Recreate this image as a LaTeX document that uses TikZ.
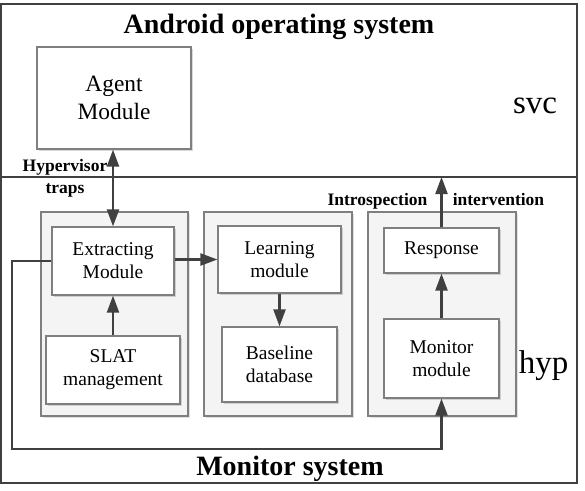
\documentclass[tikz,border=0pt]{standalone}
\usepackage{fontspec}
\setmainfont{Liberation Serif}
\usepackage{xcolor}
\usetikzlibrary{arrows.meta,shadows}
\definecolor{framegray}{HTML}{404040}
\definecolor{boxgray}{HTML}{7F7F7F}
\definecolor{groupfill}{HTML}{F4F4F4}

\begin{document}
\begin{tikzpicture}[x=1pt, y=-1pt,
  >={Triangle[length=17pt,width=12pt]},
  frame/.style={draw=framegray, line width=1.3pt},
  group/.style={draw=boxgray, line width=1.2pt, fill=groupfill, inner sep=0pt,
    drop shadow={shadow xshift=1.5pt, shadow yshift=-1.5pt, fill=black, opacity=0.12}},
  module/.style={draw=boxgray, line width=1.2pt, fill=white, align=center, inner sep=0pt,
    font=\fontsize{19.5}{23}\selectfont,
    drop shadow={shadow xshift=1.5pt, shadow yshift=-1.5pt, fill=black, opacity=0.15}},
  flow/.style={draw=framegray, line width=2.2pt},
  title/.style={font=\fontsize{28}{34}\selectfont\bfseries, inner sep=0pt, anchor=base},
  layer/.style={font=\fontsize{33}{40}\selectfont, inner sep=0pt, anchor=base},
  note/.style={font=\fontsize{17.5}{22}\selectfont\bfseries, inner sep=0pt, align=center}]
  \useasboundingbox (0,0) rectangle (585,490);

  % Frame
  \draw[frame] (1,4) rectangle (577,483);
  \draw[frame] (1,177) -- (577,177);
  \coordinate (divR) at (441.5,177);
  \coordinate (loopL) at (12,449);

  % Titles
  \node[title] (ostitle) at (279,33) {Android operating system};
  \node[title] (montitle) at (290,475) {Monitor system};
  \node[layer] (svc) at (535,113) {svc};
  \node[layer] (hyp) at (543.5,373) {hyp};

  % Groups
  \node[group, minimum width=147pt, minimum height=204pt] (grpA) at (114.5,314) {};
  \node[group, minimum width=148pt, minimum height=204pt] (grpB) at (278,314) {};
  \node[group, minimum width=148pt, minimum height=204pt] (grpC) at (442,314) {};

  % Modules
  \node[module, font=\fontsize{23.4}{28}\selectfont, minimum width=154pt, minimum height=102pt] (agent) at (114,98) {Agent\\Module};
  \node[module, minimum width=122pt, minimum height=68pt] (extract) at (113,261) {Extracting\\Module};
  \node[module, minimum width=134pt, minimum height=68pt] (slat) at (113,370) {SLAT\\management};
  \node[module, minimum width=123pt, minimum height=67pt] (learn) at (279.5,259.5) {Learning\\module};
  \node[module, minimum width=115pt, minimum height=75pt] (base) at (279.5,364.5) {Baseline\\database};
  \node[module, minimum width=115pt, minimum height=45pt] (resp) at (441.5,250.5) {Response};
  \node[module, minimum width=115pt, minimum height=79pt] (mon) at (441.5,358.5) {Monitor\\module};

  % Labels
  \node[note] (traps) at (65,178) {Hypervisor\\traps};
  \node[note, anchor=base] (intro) at (377.5,205) {Introspection};
  \node[note, anchor=base] (interv) at (498.5,205) {intervention};

  % Arrows
  \draw[flow, <->] (extract.north |- agent.south) -- (extract.north);
  \draw[flow, ->] (slat.north) -- (extract.south);
  \draw[flow, ->] (extract.east |- learn.west) -- (learn.west);
  \draw[flow, ->] (learn.south) -- (learn.south |- base.north);
  \draw[flow, ->] (mon.north) -- (resp.south);
  \draw[flow, ->] (resp.north) -- (divR);
  \draw[flow, ->] (extract.west) -| (loopL) -| (mon.south);
\end{tikzpicture}
\end{document}
